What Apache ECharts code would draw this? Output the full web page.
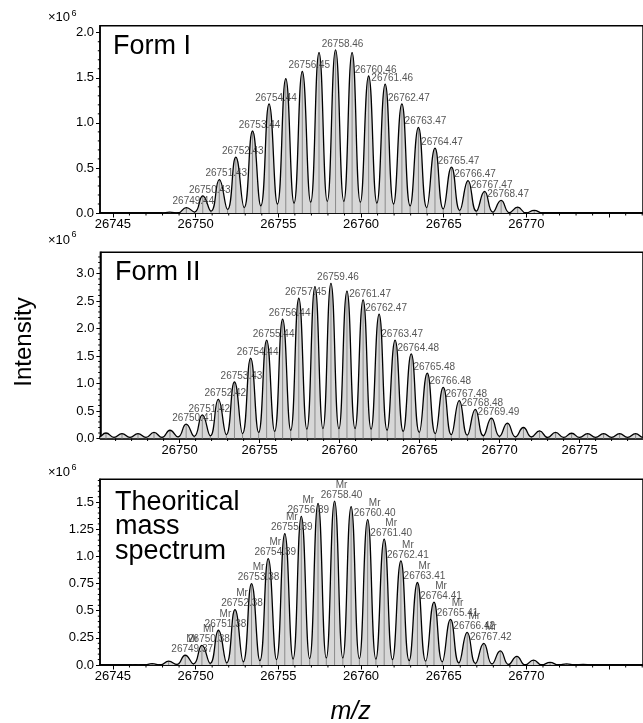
<!DOCTYPE html>
<html><head><meta charset="utf-8">
<script src="https://cdn.jsdelivr.net/npm/echarts@6/dist/echarts.min.js"></script>
<style>html,body{margin:0;padding:0;background:#fff}#c{width:643px;height:723px}</style>
</head><body><div id="c"></div>
<script>
// ---------- Form I ----------
const form1Mz = [26748.43, 26749.44, 26750.43, 26751.43, 26752.43, 26753.44, 26754.44, 26755.45, 26756.45, 26757.46, 26758.46, 26759.46, 26760.46, 26761.46, 26762.47, 26763.47, 26764.47, 26765.47, 26766.47, 26767.47, 26768.47, 26769.47, 26770.47];
const form1Int = [0.01, 0.06, 0.19, 0.37, 0.62, 0.91, 1.21, 1.49, 1.57, 1.78, 1.81, 1.78, 1.52, 1.43, 1.21, 0.95, 0.72, 0.51, 0.36, 0.24, 0.14, 0.065, 0.03];
// valleys: before first peak, between each pair, after last peak
const form1Valley = [0, 0, 0.01, 0.02, 0.04, 0.06, 0.08, 0.10, 0.11, 0.12, 0.13, 0.13, 0.12, 0.11, 0.10, 0.08, 0.06, 0.045, 0.03, 0.02, 0.01, 0.005, 0, 0];
const form1Labeled = [26749.44, 26750.43, 26751.43, 26752.43, 26753.44, 26754.44, 26756.45, 26758.46, 26760.46, 26761.46, 26762.47, 26763.47, 26764.47, 26765.47, 26766.47, 26767.47, 26768.47];

// ---------- Form II ----------
const form2Mz = [26744.40, 26745.40, 26746.40, 26747.40, 26748.40, 26749.40, 26750.41, 26751.42, 26752.42, 26753.43, 26754.44, 26755.44, 26756.44, 26757.45, 26758.46, 26759.46, 26760.46, 26761.47, 26762.47, 26763.47, 26764.48, 26765.48, 26766.48, 26767.48, 26768.48, 26769.49, 26770.49, 26771.49, 26772.50, 26773.50, 26774.50, 26775.50, 26776.50, 26777.50, 26778.50];
const form2Int = [0.10, 0.10, 0.09, 0.09, 0.11, 0.15, 0.26, 0.43, 0.71, 1.03, 1.46, 1.79, 2.17, 2.55, 2.76, 2.82, 2.68, 2.52, 2.26, 1.79, 1.54, 1.19, 0.93, 0.69, 0.53, 0.37, 0.28, 0.20, 0.14, 0.11, 0.095, 0.09, 0.09, 0.09, 0.09];
const form2Valley = [0.02, 0.02, 0.02, 0.02, 0.02, 0.02, 0.03, 0.04, 0.05, 0.07, 0.09, 0.11, 0.13, 0.15, 0.17, 0.18, 0.18, 0.18, 0.17, 0.15, 0.13, 0.11, 0.09, 0.07, 0.06, 0.05, 0.04, 0.03, 0.03, 0.02, 0.02, 0.02, 0.02, 0.02, 0.02, 0.02];
const form2Labeled = [26750.41, 26751.42, 26752.42, 26753.43, 26754.44, 26755.44, 26756.44, 26757.45, 26759.46, 26761.47, 26762.47, 26763.47, 26764.48, 26765.48, 26766.48, 26767.48, 26768.48, 26769.49];

// ---------- Theoretical ----------
const theoMz = [26746.37, 26747.37, 26748.37, 26749.37, 26750.38, 26751.38, 26752.38, 26753.38, 26754.39, 26755.39, 26756.39, 26757.40, 26758.40, 26759.40, 26760.40, 26761.40, 26762.41, 26763.41, 26764.41, 26765.41, 26766.42, 26767.42, 26768.42, 26769.42, 26770.43, 26771.43, 26772.43, 26773.43];
const theoInt = [0.003, 0.012, 0.035, 0.09, 0.18, 0.32, 0.51, 0.75, 0.98, 1.21, 1.37, 1.49, 1.51, 1.46, 1.34, 1.16, 0.96, 0.76, 0.58, 0.42, 0.30, 0.20, 0.13, 0.08, 0.045, 0.025, 0.01, 0.005];
const theoValley = [0, 0, 0, 0.005, 0.01, 0.015, 0.02, 0.03, 0.04, 0.05, 0.055, 0.06, 0.065, 0.065, 0.06, 0.055, 0.05, 0.04, 0.035, 0.03, 0.02, 0.015, 0.01, 0.005, 0, 0, 0, 0, 0];
const theoLabeled = [26749.37, 26750.38, 26751.38, 26752.38, 26753.38, 26754.39, 26755.39, 26756.39, 26758.40, 26760.40, 26761.40, 26762.41, 26763.41, 26764.41, 26765.41, 26766.42, 26767.42];

// ---------- Ticks and tick labels ----------
const xTicksA = [26745, 26750, 26755, 26760, 26765, 26770, 26775];
const xLabelsA = [26745, 26750, 26755, 26760, 26765, 26770];
const xTicksB = [26750, 26755, 26760, 26765, 26770, 26775];
const xLabelsB = [26750, 26755, 26760, 26765, 26770, 26775];
const yTicks1 = [0, 0.5, 1.0, 1.5, 2.0];
const yTicks2 = [0, 0.5, 1.0, 1.5, 2.0, 2.5, 3.0];
const yTicks3 = [0, 0.25, 0.5, 0.75, 1.0, 1.25, 1.5];

const FONT = 'Liberation Sans, Arial, Helvetica, sans-serif';

function curve(mz, inten, valley, xmin, xmax) {
  const pts = [[xmin - 1, valley[0]], [mz[0] - 0.5, valley[0]]];
  for (let i = 0; i < mz.length; i++) {
    pts.push([mz[i], inten[i]]);
    const next = i < mz.length - 1 ? (mz[i] + mz[i + 1]) / 2 : mz[i] + 0.5;
    pts.push([next, valley[i + 1]]);
  }
  pts.push([xmax + 1, valley[valley.length - 1]]);
  return pts;
}
function range(a, b, step) { const r = []; for (let v = a; v <= b + 1e-9; v += step) r.push(+v.toFixed(4)); return r; }

const panels = [
  { mz: form1Mz, inten: form1Int, valley: form1Valley, labeled: form1Labeled, mr: false,
    grid: { left: 100, top: 25.7, width: 563, height: 187.3 },
    xmin: 26744.219, xmax: 26777.047, ymax: 2.078, xTicks: xTicksA, xLabels: xLabelsA, yTicks: yTicks1, yMinor: 0.1, yMinorMax: 2.05 },
  { mz: form2Mz, inten: form2Int, valley: form2Valley, labeled: form2Labeled, mr: false,
    grid: { left: 100.4, top: 252.3, width: 562.6, height: 186.2 },
    xmin: 26745.051, xmax: 26778.963, ymax: 3.385, xTicks: xTicksB, xLabels: xLabelsB, yTicks: yTicks2, yMinor: 0.1, yMinorMax: 3.3 },
  { mz: theoMz, inten: theoInt, valley: theoValley, labeled: theoLabeled, mr: true,
    grid: { left: 100, top: 479.3, width: 563, height: 185.7 },
    xmin: 26744.219, xmax: 26777.047, ymax: 1.711, xTicks: xTicksA, xLabels: xLabelsA, yTicks: yTicks3, yMinor: 0.05, yMinorMax: 1.70 }
];

const grids = [], xAxes = [], yAxes = [], series = [];
const yFmt = v => (Math.abs(v * 2 - Math.round(v * 2)) < 1e-9 ? v.toFixed(1) : v.toFixed(2));

panels.forEach((p, gi) => {
  grids.push(Object.assign({ show: true, borderColor: '#000', borderWidth: 1.5, backgroundColor: 'transparent' }, p.grid));
  xAxes.push({
    gridIndex: gi, type: 'value', position: 'bottom', min: p.xmin, max: p.xmax,
    axisLine: { show: true, onZero: false, lineStyle: { color: '#000', width: 1.5 } },
    axisTick: { show: true, customValues: p.xTicks, length: 4.5, lineStyle: { color: '#000', width: 1 } },
    axisLabel: { show: true, customValues: p.xLabels, margin: 5, fontSize: 13, color: '#000', fontFamily: FONT, formatter: v => String(Math.round(v)) },
    splitLine: { show: false }
  });
  yAxes.push({
    gridIndex: gi, type: 'value', position: 'left', min: 0, max: p.ymax,
    axisLine: { show: true, onZero: false, lineStyle: { color: '#000', width: 1.5 } },
    axisTick: { show: true, customValues: p.yTicks, length: 4, lineStyle: { color: '#000', width: 1 } },
    axisLabel: { show: true, customValues: p.yTicks, margin: 6, fontSize: 13, color: '#000', fontFamily: FONT, formatter: yFmt },
    splitLine: { show: false }
  });
  const xi = gi, yi = gi;
  const pts = curve(p.mz, p.inten, p.valley, p.xmin, p.xmax);
  series.push({
    type: 'line', xAxisIndex: xi, yAxisIndex: yi, data: pts, smooth: 0.5, showSymbol: false, silent: true,
    lineStyle: { width: 0, opacity: 0 }, areaStyle: { color: '#d7d7d7', opacity: 1 }, z: 1, animation: false
  });
  series.push({
    type: 'bar', xAxisIndex: xi, yAxisIndex: yi, data: pts.filter(d => d[0] > p.xmin && d[0] < p.xmax), barWidth: 1, silent: true,
    itemStyle: { color: '#8a8a8a' }, z: 2, animation: false
  });
  series.push({
    type: 'line', xAxisIndex: xi, yAxisIndex: yi, data: pts, smooth: 0.5, showSymbol: false, silent: true,
    lineStyle: { width: 1.3, color: '#000' }, z: 3, animation: false
  });
  const labPts = p.mz.map((m, i) => [m, p.inten[i]]).filter(d => p.labeled.indexOf(d[0]) >= 0);
  series.push({
    type: 'scatter', xAxisIndex: xi, yAxisIndex: yi, data: labPts, symbolSize: 0, silent: true, z: 4, animation: false,
    label: {
      show: true, position: 'top', distance: 1, offset: [7, 0], fontSize: 10, lineHeight: 10, color: '#2a2a2a', fontFamily: FONT,
      formatter: prm => (p.mr ? 'Mr\n' : '') + prm.value[0].toFixed(2)
    }
  });
  // minor ticks on both axes, placed through the axes' own scales
  const xMinor = range(Math.ceil(p.xmin), Math.floor(p.xmax), 1).filter(v => p.xTicks.indexOf(v) < 0);
  const yMinor = range(0, p.yMinorMax, p.yMinor).filter(v => !p.yTicks.some(t => Math.abs(t - v) < 1e-6));
  series.push({
    type: 'custom', xAxisIndex: xi, yAxisIndex: yi, clip: false, silent: true, z: 5, animation: false,
    data: xMinor.map(v => [v, 0]),
    renderItem: (params, api) => {
      const c = api.coord([api.value(0), 0]);
      return { type: 'line', shape: { x1: c[0], y1: c[1], x2: c[0], y2: c[1] + 2.5 }, style: { stroke: '#000', lineWidth: 1 } };
    }
  });
  series.push({
    type: 'custom', xAxisIndex: xi, yAxisIndex: yi, clip: false, silent: true, z: 5, animation: false,
    data: yMinor.map(v => [p.xmin, v]),
    renderItem: (params, api) => {
      const c = api.coord([p.xmin, api.value(1)]);
      return { type: 'line', shape: { x1: c[0] - 2.2, y1: c[1], x2: c[0], y2: c[1] }, style: { stroke: '#000', lineWidth: 1 } };
    }
  });
});

const txt = (x, y, text, size, extra) => ({ type: 'text', x, y, silent: true,
  style: Object.assign({ text, fontSize: size, fontFamily: FONT, fill: '#000', align: 'left', verticalAlign: 'middle' }, extra || {}) });

const graphic = [
  txt(48, 17.5, '×10', 13), txt(71.5, 13.5, '6', 9),
  txt(48, 240, '×10', 13), txt(71.5, 235, '6', 9),
  txt(48, 472.5, '×10', 13), txt(71.5, 467.5, '6', 9),
  txt(113, 46.2, 'Form I', 27),
  txt(115, 272.2, 'Form II', 27),
  txt(115, 502.5, 'Theoritical', 27),
  txt(115, 527, 'mass', 27),
  txt(115, 551.5, 'spectrum', 27),
  { type: 'text', x: 24, y: 342, rotation: Math.PI / 2, silent: true,
    style: { text: 'Intensity', fontSize: 24, fontFamily: FONT, fill: '#000', align: 'center', verticalAlign: 'middle' } },
  txt(350.6, 712, 'm/z', 25, { align: 'center', fontStyle: 'italic' })
];

const chart = echarts.init(document.getElementById('c'), null, { renderer: 'canvas' });
chart.setOption({ animation: false, grid: grids, xAxis: xAxes, yAxis: yAxes, series, graphic });
</script></body></html>
